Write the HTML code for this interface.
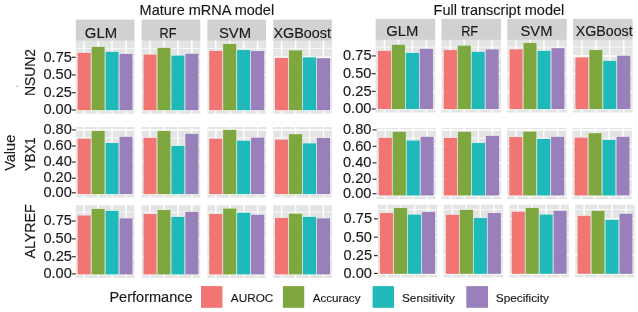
<!DOCTYPE html>
<html><head><meta charset="utf-8"><style>
html,body{margin:0;padding:0;background:#fff;}
svg{display:block;will-change:transform;}
text{font-family:"Liberation Sans", sans-serif;fill:#1A1A1A;stroke:#1A1A1A;stroke-width:0.15px;}
</style></head><body>
<svg width="638" height="312" viewBox="0 0 638 312">
<rect width="638" height="312" fill="#fff"/>
<rect x="75.8" y="39.6" width="58.65" height="74.07" fill="#E3E5E4"/>
<line x1="75.8" x2="134.45" y1="101.51" y2="101.51" stroke="#fff" stroke-width="0.75"/>
<line x1="75.8" x2="134.45" y1="83.82" y2="83.82" stroke="#fff" stroke-width="0.75"/>
<line x1="75.8" x2="134.45" y1="66.14" y2="66.14" stroke="#fff" stroke-width="0.75"/>
<line x1="75.8" x2="134.45" y1="48.46" y2="48.46" stroke="#fff" stroke-width="0.75"/>
<line x1="75.8" x2="134.45" y1="110.35" y2="110.35" stroke="#fff" stroke-width="1.5"/>
<line x1="75.8" x2="134.45" y1="92.67" y2="92.67" stroke="#fff" stroke-width="1.5"/>
<line x1="75.8" x2="134.45" y1="74.98" y2="74.98" stroke="#fff" stroke-width="1.5"/>
<line x1="75.8" x2="134.45" y1="57.3" y2="57.3" stroke="#fff" stroke-width="1.5"/>
<line x1="84.2" x2="84.2" y1="40.6" y2="113.67" stroke="#fff" stroke-width="1.5"/>
<line x1="98.15" x2="98.15" y1="40.6" y2="113.67" stroke="#fff" stroke-width="1.5"/>
<line x1="112.1" x2="112.1" y1="40.6" y2="113.67" stroke="#fff" stroke-width="1.5"/>
<line x1="126.05" x2="126.05" y1="40.6" y2="113.67" stroke="#fff" stroke-width="1.5"/>
<rect x="141.6" y="39.6" width="58.65" height="74.07" fill="#E3E5E4"/>
<line x1="141.6" x2="200.25" y1="101.51" y2="101.51" stroke="#fff" stroke-width="0.75"/>
<line x1="141.6" x2="200.25" y1="83.82" y2="83.82" stroke="#fff" stroke-width="0.75"/>
<line x1="141.6" x2="200.25" y1="66.14" y2="66.14" stroke="#fff" stroke-width="0.75"/>
<line x1="141.6" x2="200.25" y1="48.46" y2="48.46" stroke="#fff" stroke-width="0.75"/>
<line x1="141.6" x2="200.25" y1="110.35" y2="110.35" stroke="#fff" stroke-width="1.5"/>
<line x1="141.6" x2="200.25" y1="92.67" y2="92.67" stroke="#fff" stroke-width="1.5"/>
<line x1="141.6" x2="200.25" y1="74.98" y2="74.98" stroke="#fff" stroke-width="1.5"/>
<line x1="141.6" x2="200.25" y1="57.3" y2="57.3" stroke="#fff" stroke-width="1.5"/>
<line x1="150" x2="150" y1="40.6" y2="113.67" stroke="#fff" stroke-width="1.5"/>
<line x1="163.95" x2="163.95" y1="40.6" y2="113.67" stroke="#fff" stroke-width="1.5"/>
<line x1="177.9" x2="177.9" y1="40.6" y2="113.67" stroke="#fff" stroke-width="1.5"/>
<line x1="191.85" x2="191.85" y1="40.6" y2="113.67" stroke="#fff" stroke-width="1.5"/>
<rect x="207.4" y="39.6" width="58.65" height="74.07" fill="#E3E5E4"/>
<line x1="207.4" x2="266.05" y1="101.51" y2="101.51" stroke="#fff" stroke-width="0.75"/>
<line x1="207.4" x2="266.05" y1="83.82" y2="83.82" stroke="#fff" stroke-width="0.75"/>
<line x1="207.4" x2="266.05" y1="66.14" y2="66.14" stroke="#fff" stroke-width="0.75"/>
<line x1="207.4" x2="266.05" y1="48.46" y2="48.46" stroke="#fff" stroke-width="0.75"/>
<line x1="207.4" x2="266.05" y1="110.35" y2="110.35" stroke="#fff" stroke-width="1.5"/>
<line x1="207.4" x2="266.05" y1="92.67" y2="92.67" stroke="#fff" stroke-width="1.5"/>
<line x1="207.4" x2="266.05" y1="74.98" y2="74.98" stroke="#fff" stroke-width="1.5"/>
<line x1="207.4" x2="266.05" y1="57.3" y2="57.3" stroke="#fff" stroke-width="1.5"/>
<line x1="215.8" x2="215.8" y1="40.6" y2="113.67" stroke="#fff" stroke-width="1.5"/>
<line x1="229.75" x2="229.75" y1="40.6" y2="113.67" stroke="#fff" stroke-width="1.5"/>
<line x1="243.7" x2="243.7" y1="40.6" y2="113.67" stroke="#fff" stroke-width="1.5"/>
<line x1="257.65" x2="257.65" y1="40.6" y2="113.67" stroke="#fff" stroke-width="1.5"/>
<rect x="273.2" y="39.6" width="58.65" height="74.07" fill="#E3E5E4"/>
<line x1="273.2" x2="331.85" y1="101.51" y2="101.51" stroke="#fff" stroke-width="0.75"/>
<line x1="273.2" x2="331.85" y1="83.82" y2="83.82" stroke="#fff" stroke-width="0.75"/>
<line x1="273.2" x2="331.85" y1="66.14" y2="66.14" stroke="#fff" stroke-width="0.75"/>
<line x1="273.2" x2="331.85" y1="48.46" y2="48.46" stroke="#fff" stroke-width="0.75"/>
<line x1="273.2" x2="331.85" y1="110.35" y2="110.35" stroke="#fff" stroke-width="1.5"/>
<line x1="273.2" x2="331.85" y1="92.67" y2="92.67" stroke="#fff" stroke-width="1.5"/>
<line x1="273.2" x2="331.85" y1="74.98" y2="74.98" stroke="#fff" stroke-width="1.5"/>
<line x1="273.2" x2="331.85" y1="57.3" y2="57.3" stroke="#fff" stroke-width="1.5"/>
<line x1="281.6" x2="281.6" y1="40.6" y2="113.67" stroke="#fff" stroke-width="1.5"/>
<line x1="295.55" x2="295.55" y1="40.6" y2="113.67" stroke="#fff" stroke-width="1.5"/>
<line x1="309.5" x2="309.5" y1="40.6" y2="113.67" stroke="#fff" stroke-width="1.5"/>
<line x1="323.45" x2="323.45" y1="40.6" y2="113.67" stroke="#fff" stroke-width="1.5"/>
<rect x="77.43" y="52.8" width="13.53" height="57.55" fill="#F07573" stroke="#fff" stroke-width="0.3"/>
<rect x="91.38" y="46.7" width="13.53" height="63.65" fill="#7FA740" stroke="#fff" stroke-width="0.3"/>
<rect x="105.33" y="51.7" width="13.53" height="58.65" fill="#20B9B9" stroke="#fff" stroke-width="0.3"/>
<rect x="119.28" y="53.8" width="13.53" height="56.55" fill="#9A80BA" stroke="#fff" stroke-width="0.3"/>
<rect x="143.23" y="54.4" width="13.53" height="55.95" fill="#F07573" stroke="#fff" stroke-width="0.3"/>
<rect x="157.18" y="47.7" width="13.53" height="62.65" fill="#7FA740" stroke="#fff" stroke-width="0.3"/>
<rect x="171.13" y="55.4" width="13.53" height="54.95" fill="#20B9B9" stroke="#fff" stroke-width="0.3"/>
<rect x="185.08" y="53.6" width="13.53" height="56.75" fill="#9A80BA" stroke="#fff" stroke-width="0.3"/>
<rect x="209.03" y="50.7" width="13.53" height="59.65" fill="#F07573" stroke="#fff" stroke-width="0.3"/>
<rect x="222.98" y="43.8" width="13.53" height="66.55" fill="#7FA740" stroke="#fff" stroke-width="0.3"/>
<rect x="236.93" y="49.9" width="13.53" height="60.45" fill="#20B9B9" stroke="#fff" stroke-width="0.3"/>
<rect x="250.88" y="50.9" width="13.53" height="59.45" fill="#9A80BA" stroke="#fff" stroke-width="0.3"/>
<rect x="274.83" y="57.8" width="13.53" height="52.55" fill="#F07573" stroke="#fff" stroke-width="0.3"/>
<rect x="288.78" y="50.1" width="13.53" height="60.25" fill="#7FA740" stroke="#fff" stroke-width="0.3"/>
<rect x="302.73" y="57.1" width="13.53" height="53.25" fill="#20B9B9" stroke="#fff" stroke-width="0.3"/>
<rect x="316.68" y="58" width="13.53" height="52.35" fill="#9A80BA" stroke="#fff" stroke-width="0.3"/>
<line x1="71.9" x2="75.8" y1="110" y2="110" stroke="#333333" stroke-width="1.2"/>
<text x="43.41" y="114.2" font-size="14.6" textLength="28.42" lengthAdjust="spacingAndGlyphs">0.00</text>
<line x1="71.9" x2="75.8" y1="92.67" y2="92.67" stroke="#333333" stroke-width="1.2"/>
<text x="43.49" y="96.87" font-size="14.6" textLength="28.42" lengthAdjust="spacingAndGlyphs">0.25</text>
<line x1="71.9" x2="75.8" y1="74.98" y2="74.98" stroke="#333333" stroke-width="1.2"/>
<text x="43.41" y="79.18" font-size="14.6" textLength="28.42" lengthAdjust="spacingAndGlyphs">0.50</text>
<line x1="71.9" x2="75.8" y1="57.3" y2="57.3" stroke="#333333" stroke-width="1.2"/>
<text x="43.49" y="61.5" font-size="14.6" textLength="28.42" lengthAdjust="spacingAndGlyphs">0.75</text>
<rect x="75.8" y="127" width="58.65" height="70.45" fill="#E3E5E4"/>
<line x1="75.8" x2="134.45" y1="186.21" y2="186.21" stroke="#fff" stroke-width="0.75"/>
<line x1="75.8" x2="134.45" y1="170.12" y2="170.12" stroke="#fff" stroke-width="0.75"/>
<line x1="75.8" x2="134.45" y1="154.03" y2="154.03" stroke="#fff" stroke-width="0.75"/>
<line x1="75.8" x2="134.45" y1="137.94" y2="137.94" stroke="#fff" stroke-width="0.75"/>
<line x1="75.8" x2="134.45" y1="194.25" y2="194.25" stroke="#fff" stroke-width="1.5"/>
<line x1="75.8" x2="134.45" y1="178.16" y2="178.16" stroke="#fff" stroke-width="1.5"/>
<line x1="75.8" x2="134.45" y1="162.07" y2="162.07" stroke="#fff" stroke-width="1.5"/>
<line x1="75.8" x2="134.45" y1="145.99" y2="145.99" stroke="#fff" stroke-width="1.5"/>
<line x1="75.8" x2="134.45" y1="129.9" y2="129.9" stroke="#fff" stroke-width="1.5"/>
<line x1="84.2" x2="84.2" y1="127" y2="197.45" stroke="#fff" stroke-width="1.5"/>
<line x1="98.15" x2="98.15" y1="127" y2="197.45" stroke="#fff" stroke-width="1.5"/>
<line x1="112.1" x2="112.1" y1="127" y2="197.45" stroke="#fff" stroke-width="1.5"/>
<line x1="126.05" x2="126.05" y1="127" y2="197.45" stroke="#fff" stroke-width="1.5"/>
<rect x="141.6" y="127" width="58.65" height="70.45" fill="#E3E5E4"/>
<line x1="141.6" x2="200.25" y1="186.21" y2="186.21" stroke="#fff" stroke-width="0.75"/>
<line x1="141.6" x2="200.25" y1="170.12" y2="170.12" stroke="#fff" stroke-width="0.75"/>
<line x1="141.6" x2="200.25" y1="154.03" y2="154.03" stroke="#fff" stroke-width="0.75"/>
<line x1="141.6" x2="200.25" y1="137.94" y2="137.94" stroke="#fff" stroke-width="0.75"/>
<line x1="141.6" x2="200.25" y1="194.25" y2="194.25" stroke="#fff" stroke-width="1.5"/>
<line x1="141.6" x2="200.25" y1="178.16" y2="178.16" stroke="#fff" stroke-width="1.5"/>
<line x1="141.6" x2="200.25" y1="162.07" y2="162.07" stroke="#fff" stroke-width="1.5"/>
<line x1="141.6" x2="200.25" y1="145.99" y2="145.99" stroke="#fff" stroke-width="1.5"/>
<line x1="141.6" x2="200.25" y1="129.9" y2="129.9" stroke="#fff" stroke-width="1.5"/>
<line x1="150" x2="150" y1="127" y2="197.45" stroke="#fff" stroke-width="1.5"/>
<line x1="163.95" x2="163.95" y1="127" y2="197.45" stroke="#fff" stroke-width="1.5"/>
<line x1="177.9" x2="177.9" y1="127" y2="197.45" stroke="#fff" stroke-width="1.5"/>
<line x1="191.85" x2="191.85" y1="127" y2="197.45" stroke="#fff" stroke-width="1.5"/>
<rect x="207.4" y="127" width="58.65" height="70.45" fill="#E3E5E4"/>
<line x1="207.4" x2="266.05" y1="186.21" y2="186.21" stroke="#fff" stroke-width="0.75"/>
<line x1="207.4" x2="266.05" y1="170.12" y2="170.12" stroke="#fff" stroke-width="0.75"/>
<line x1="207.4" x2="266.05" y1="154.03" y2="154.03" stroke="#fff" stroke-width="0.75"/>
<line x1="207.4" x2="266.05" y1="137.94" y2="137.94" stroke="#fff" stroke-width="0.75"/>
<line x1="207.4" x2="266.05" y1="194.25" y2="194.25" stroke="#fff" stroke-width="1.5"/>
<line x1="207.4" x2="266.05" y1="178.16" y2="178.16" stroke="#fff" stroke-width="1.5"/>
<line x1="207.4" x2="266.05" y1="162.07" y2="162.07" stroke="#fff" stroke-width="1.5"/>
<line x1="207.4" x2="266.05" y1="145.99" y2="145.99" stroke="#fff" stroke-width="1.5"/>
<line x1="207.4" x2="266.05" y1="129.9" y2="129.9" stroke="#fff" stroke-width="1.5"/>
<line x1="215.8" x2="215.8" y1="127" y2="197.45" stroke="#fff" stroke-width="1.5"/>
<line x1="229.75" x2="229.75" y1="127" y2="197.45" stroke="#fff" stroke-width="1.5"/>
<line x1="243.7" x2="243.7" y1="127" y2="197.45" stroke="#fff" stroke-width="1.5"/>
<line x1="257.65" x2="257.65" y1="127" y2="197.45" stroke="#fff" stroke-width="1.5"/>
<rect x="273.2" y="127" width="58.65" height="70.45" fill="#E3E5E4"/>
<line x1="273.2" x2="331.85" y1="186.21" y2="186.21" stroke="#fff" stroke-width="0.75"/>
<line x1="273.2" x2="331.85" y1="170.12" y2="170.12" stroke="#fff" stroke-width="0.75"/>
<line x1="273.2" x2="331.85" y1="154.03" y2="154.03" stroke="#fff" stroke-width="0.75"/>
<line x1="273.2" x2="331.85" y1="137.94" y2="137.94" stroke="#fff" stroke-width="0.75"/>
<line x1="273.2" x2="331.85" y1="194.25" y2="194.25" stroke="#fff" stroke-width="1.5"/>
<line x1="273.2" x2="331.85" y1="178.16" y2="178.16" stroke="#fff" stroke-width="1.5"/>
<line x1="273.2" x2="331.85" y1="162.07" y2="162.07" stroke="#fff" stroke-width="1.5"/>
<line x1="273.2" x2="331.85" y1="145.99" y2="145.99" stroke="#fff" stroke-width="1.5"/>
<line x1="273.2" x2="331.85" y1="129.9" y2="129.9" stroke="#fff" stroke-width="1.5"/>
<line x1="281.6" x2="281.6" y1="127" y2="197.45" stroke="#fff" stroke-width="1.5"/>
<line x1="295.55" x2="295.55" y1="127" y2="197.45" stroke="#fff" stroke-width="1.5"/>
<line x1="309.5" x2="309.5" y1="127" y2="197.45" stroke="#fff" stroke-width="1.5"/>
<line x1="323.45" x2="323.45" y1="127" y2="197.45" stroke="#fff" stroke-width="1.5"/>
<rect x="77.43" y="138.5" width="13.53" height="55.75" fill="#F07573" stroke="#fff" stroke-width="0.3"/>
<rect x="91.38" y="130.8" width="13.53" height="63.45" fill="#7FA740" stroke="#fff" stroke-width="0.3"/>
<rect x="105.33" y="142.9" width="13.53" height="51.35" fill="#20B9B9" stroke="#fff" stroke-width="0.3"/>
<rect x="119.28" y="136.7" width="13.53" height="57.55" fill="#9A80BA" stroke="#fff" stroke-width="0.3"/>
<rect x="143.23" y="137.7" width="13.53" height="56.55" fill="#F07573" stroke="#fff" stroke-width="0.3"/>
<rect x="157.18" y="130.8" width="13.53" height="63.45" fill="#7FA740" stroke="#fff" stroke-width="0.3"/>
<rect x="171.13" y="145.7" width="13.53" height="48.55" fill="#20B9B9" stroke="#fff" stroke-width="0.3"/>
<rect x="185.08" y="133.7" width="13.53" height="60.55" fill="#9A80BA" stroke="#fff" stroke-width="0.3"/>
<rect x="209.03" y="138.5" width="13.53" height="55.75" fill="#F07573" stroke="#fff" stroke-width="0.3"/>
<rect x="222.98" y="129.8" width="13.53" height="64.45" fill="#7FA740" stroke="#fff" stroke-width="0.3"/>
<rect x="236.93" y="140.6" width="13.53" height="53.65" fill="#20B9B9" stroke="#fff" stroke-width="0.3"/>
<rect x="250.88" y="137.4" width="13.53" height="56.85" fill="#9A80BA" stroke="#fff" stroke-width="0.3"/>
<rect x="274.83" y="139.4" width="13.53" height="54.85" fill="#F07573" stroke="#fff" stroke-width="0.3"/>
<rect x="288.78" y="134" width="13.53" height="60.25" fill="#7FA740" stroke="#fff" stroke-width="0.3"/>
<rect x="302.73" y="143.1" width="13.53" height="51.15" fill="#20B9B9" stroke="#fff" stroke-width="0.3"/>
<rect x="316.68" y="137.8" width="13.53" height="56.45" fill="#9A80BA" stroke="#fff" stroke-width="0.3"/>
<line x1="71.9" x2="75.8" y1="192.8" y2="192.8" stroke="#333333" stroke-width="1.2"/>
<text x="43.41" y="196.8" font-size="14.6" textLength="28.42" lengthAdjust="spacingAndGlyphs">0.00</text>
<line x1="71.9" x2="75.8" y1="178.16" y2="178.16" stroke="#333333" stroke-width="1.2"/>
<text x="43.41" y="182.16" font-size="14.6" textLength="28.42" lengthAdjust="spacingAndGlyphs">0.20</text>
<line x1="71.9" x2="75.8" y1="162.07" y2="162.07" stroke="#333333" stroke-width="1.2"/>
<text x="43.41" y="166.07" font-size="14.6" textLength="28.42" lengthAdjust="spacingAndGlyphs">0.40</text>
<line x1="71.9" x2="75.8" y1="145.99" y2="145.99" stroke="#333333" stroke-width="1.2"/>
<text x="43.41" y="149.99" font-size="14.6" textLength="28.42" lengthAdjust="spacingAndGlyphs">0.60</text>
<line x1="71.9" x2="75.8" y1="129.9" y2="129.9" stroke="#333333" stroke-width="1.2"/>
<text x="43.41" y="133.9" font-size="14.6" textLength="28.42" lengthAdjust="spacingAndGlyphs">0.80</text>
<rect x="75.8" y="205.2" width="58.65" height="72.7" fill="#E3E5E4"/>
<line x1="75.8" x2="134.45" y1="265.67" y2="265.67" stroke="#fff" stroke-width="0.75"/>
<line x1="75.8" x2="134.45" y1="247.8" y2="247.8" stroke="#fff" stroke-width="0.75"/>
<line x1="75.8" x2="134.45" y1="229.93" y2="229.93" stroke="#fff" stroke-width="0.75"/>
<line x1="75.8" x2="134.45" y1="212.07" y2="212.07" stroke="#fff" stroke-width="0.75"/>
<line x1="75.8" x2="134.45" y1="274.6" y2="274.6" stroke="#fff" stroke-width="1.5"/>
<line x1="75.8" x2="134.45" y1="256.73" y2="256.73" stroke="#fff" stroke-width="1.5"/>
<line x1="75.8" x2="134.45" y1="238.87" y2="238.87" stroke="#fff" stroke-width="1.5"/>
<line x1="75.8" x2="134.45" y1="221" y2="221" stroke="#fff" stroke-width="1.5"/>
<line x1="84.2" x2="84.2" y1="205.2" y2="277.9" stroke="#fff" stroke-width="1.5"/>
<line x1="98.15" x2="98.15" y1="205.2" y2="277.9" stroke="#fff" stroke-width="1.5"/>
<line x1="112.1" x2="112.1" y1="205.2" y2="277.9" stroke="#fff" stroke-width="1.5"/>
<line x1="126.05" x2="126.05" y1="205.2" y2="277.9" stroke="#fff" stroke-width="1.5"/>
<rect x="141.6" y="205.2" width="58.65" height="72.7" fill="#E3E5E4"/>
<line x1="141.6" x2="200.25" y1="265.67" y2="265.67" stroke="#fff" stroke-width="0.75"/>
<line x1="141.6" x2="200.25" y1="247.8" y2="247.8" stroke="#fff" stroke-width="0.75"/>
<line x1="141.6" x2="200.25" y1="229.93" y2="229.93" stroke="#fff" stroke-width="0.75"/>
<line x1="141.6" x2="200.25" y1="212.07" y2="212.07" stroke="#fff" stroke-width="0.75"/>
<line x1="141.6" x2="200.25" y1="274.6" y2="274.6" stroke="#fff" stroke-width="1.5"/>
<line x1="141.6" x2="200.25" y1="256.73" y2="256.73" stroke="#fff" stroke-width="1.5"/>
<line x1="141.6" x2="200.25" y1="238.87" y2="238.87" stroke="#fff" stroke-width="1.5"/>
<line x1="141.6" x2="200.25" y1="221" y2="221" stroke="#fff" stroke-width="1.5"/>
<line x1="150" x2="150" y1="205.2" y2="277.9" stroke="#fff" stroke-width="1.5"/>
<line x1="163.95" x2="163.95" y1="205.2" y2="277.9" stroke="#fff" stroke-width="1.5"/>
<line x1="177.9" x2="177.9" y1="205.2" y2="277.9" stroke="#fff" stroke-width="1.5"/>
<line x1="191.85" x2="191.85" y1="205.2" y2="277.9" stroke="#fff" stroke-width="1.5"/>
<rect x="207.4" y="205.2" width="58.65" height="72.7" fill="#E3E5E4"/>
<line x1="207.4" x2="266.05" y1="265.67" y2="265.67" stroke="#fff" stroke-width="0.75"/>
<line x1="207.4" x2="266.05" y1="247.8" y2="247.8" stroke="#fff" stroke-width="0.75"/>
<line x1="207.4" x2="266.05" y1="229.93" y2="229.93" stroke="#fff" stroke-width="0.75"/>
<line x1="207.4" x2="266.05" y1="212.07" y2="212.07" stroke="#fff" stroke-width="0.75"/>
<line x1="207.4" x2="266.05" y1="274.6" y2="274.6" stroke="#fff" stroke-width="1.5"/>
<line x1="207.4" x2="266.05" y1="256.73" y2="256.73" stroke="#fff" stroke-width="1.5"/>
<line x1="207.4" x2="266.05" y1="238.87" y2="238.87" stroke="#fff" stroke-width="1.5"/>
<line x1="207.4" x2="266.05" y1="221" y2="221" stroke="#fff" stroke-width="1.5"/>
<line x1="215.8" x2="215.8" y1="205.2" y2="277.9" stroke="#fff" stroke-width="1.5"/>
<line x1="229.75" x2="229.75" y1="205.2" y2="277.9" stroke="#fff" stroke-width="1.5"/>
<line x1="243.7" x2="243.7" y1="205.2" y2="277.9" stroke="#fff" stroke-width="1.5"/>
<line x1="257.65" x2="257.65" y1="205.2" y2="277.9" stroke="#fff" stroke-width="1.5"/>
<rect x="273.2" y="205.2" width="58.65" height="72.7" fill="#E3E5E4"/>
<line x1="273.2" x2="331.85" y1="265.67" y2="265.67" stroke="#fff" stroke-width="0.75"/>
<line x1="273.2" x2="331.85" y1="247.8" y2="247.8" stroke="#fff" stroke-width="0.75"/>
<line x1="273.2" x2="331.85" y1="229.93" y2="229.93" stroke="#fff" stroke-width="0.75"/>
<line x1="273.2" x2="331.85" y1="212.07" y2="212.07" stroke="#fff" stroke-width="0.75"/>
<line x1="273.2" x2="331.85" y1="274.6" y2="274.6" stroke="#fff" stroke-width="1.5"/>
<line x1="273.2" x2="331.85" y1="256.73" y2="256.73" stroke="#fff" stroke-width="1.5"/>
<line x1="273.2" x2="331.85" y1="238.87" y2="238.87" stroke="#fff" stroke-width="1.5"/>
<line x1="273.2" x2="331.85" y1="221" y2="221" stroke="#fff" stroke-width="1.5"/>
<line x1="281.6" x2="281.6" y1="205.2" y2="277.9" stroke="#fff" stroke-width="1.5"/>
<line x1="295.55" x2="295.55" y1="205.2" y2="277.9" stroke="#fff" stroke-width="1.5"/>
<line x1="309.5" x2="309.5" y1="205.2" y2="277.9" stroke="#fff" stroke-width="1.5"/>
<line x1="323.45" x2="323.45" y1="205.2" y2="277.9" stroke="#fff" stroke-width="1.5"/>
<rect x="77.43" y="215.2" width="13.53" height="59.4" fill="#F07573" stroke="#fff" stroke-width="0.3"/>
<rect x="91.38" y="208.8" width="13.53" height="65.8" fill="#7FA740" stroke="#fff" stroke-width="0.3"/>
<rect x="105.33" y="210.7" width="13.53" height="63.9" fill="#20B9B9" stroke="#fff" stroke-width="0.3"/>
<rect x="119.28" y="218.1" width="13.53" height="56.5" fill="#9A80BA" stroke="#fff" stroke-width="0.3"/>
<rect x="143.23" y="213.9" width="13.53" height="60.7" fill="#F07573" stroke="#fff" stroke-width="0.3"/>
<rect x="157.18" y="209.9" width="13.53" height="64.7" fill="#7FA740" stroke="#fff" stroke-width="0.3"/>
<rect x="171.13" y="216.8" width="13.53" height="57.8" fill="#20B9B9" stroke="#fff" stroke-width="0.3"/>
<rect x="185.08" y="211.7" width="13.53" height="62.9" fill="#9A80BA" stroke="#fff" stroke-width="0.3"/>
<rect x="209.03" y="213.9" width="13.53" height="60.7" fill="#F07573" stroke="#fff" stroke-width="0.3"/>
<rect x="222.98" y="208.3" width="13.53" height="66.3" fill="#7FA740" stroke="#fff" stroke-width="0.3"/>
<rect x="236.93" y="212.6" width="13.53" height="62" fill="#20B9B9" stroke="#fff" stroke-width="0.3"/>
<rect x="250.88" y="214.7" width="13.53" height="59.9" fill="#9A80BA" stroke="#fff" stroke-width="0.3"/>
<rect x="274.83" y="217.8" width="13.53" height="56.8" fill="#F07573" stroke="#fff" stroke-width="0.3"/>
<rect x="288.78" y="213.5" width="13.53" height="61.1" fill="#7FA740" stroke="#fff" stroke-width="0.3"/>
<rect x="302.73" y="216.8" width="13.53" height="57.8" fill="#20B9B9" stroke="#fff" stroke-width="0.3"/>
<rect x="316.68" y="218.1" width="13.53" height="56.5" fill="#9A80BA" stroke="#fff" stroke-width="0.3"/>
<line x1="71.9" x2="75.8" y1="273.9" y2="273.9" stroke="#333333" stroke-width="1.2"/>
<text x="43.41" y="277.7" font-size="14.6" textLength="28.42" lengthAdjust="spacingAndGlyphs">0.00</text>
<line x1="71.9" x2="75.8" y1="256.73" y2="256.73" stroke="#333333" stroke-width="1.2"/>
<text x="43.49" y="260.53" font-size="14.6" textLength="28.42" lengthAdjust="spacingAndGlyphs">0.25</text>
<line x1="71.9" x2="75.8" y1="238.87" y2="238.87" stroke="#333333" stroke-width="1.2"/>
<text x="43.41" y="242.67" font-size="14.6" textLength="28.42" lengthAdjust="spacingAndGlyphs">0.50</text>
<line x1="71.9" x2="75.8" y1="221" y2="221" stroke="#333333" stroke-width="1.2"/>
<text x="43.49" y="224.8" font-size="14.6" textLength="28.42" lengthAdjust="spacingAndGlyphs">0.75</text>
<rect x="375.7" y="38.7" width="59.45" height="73.81" fill="#E3E5E4"/>
<line x1="375.7" x2="435.15" y1="100.32" y2="100.32" stroke="#fff" stroke-width="0.75"/>
<line x1="375.7" x2="435.15" y1="82.55" y2="82.55" stroke="#fff" stroke-width="0.75"/>
<line x1="375.7" x2="435.15" y1="64.78" y2="64.78" stroke="#fff" stroke-width="0.75"/>
<line x1="375.7" x2="435.15" y1="47.02" y2="47.02" stroke="#fff" stroke-width="0.75"/>
<line x1="375.7" x2="435.15" y1="109.2" y2="109.2" stroke="#fff" stroke-width="1.5"/>
<line x1="375.7" x2="435.15" y1="91.43" y2="91.43" stroke="#fff" stroke-width="1.5"/>
<line x1="375.7" x2="435.15" y1="73.67" y2="73.67" stroke="#fff" stroke-width="1.5"/>
<line x1="375.7" x2="435.15" y1="55.9" y2="55.9" stroke="#fff" stroke-width="1.5"/>
<line x1="384.5" x2="384.5" y1="39.7" y2="112.51" stroke="#fff" stroke-width="1.5"/>
<line x1="398.45" x2="398.45" y1="39.7" y2="112.51" stroke="#fff" stroke-width="1.5"/>
<line x1="412.4" x2="412.4" y1="39.7" y2="112.51" stroke="#fff" stroke-width="1.5"/>
<line x1="426.35" x2="426.35" y1="39.7" y2="112.51" stroke="#fff" stroke-width="1.5"/>
<rect x="441.5" y="38.7" width="59.45" height="73.81" fill="#E3E5E4"/>
<line x1="441.5" x2="500.95" y1="100.32" y2="100.32" stroke="#fff" stroke-width="0.75"/>
<line x1="441.5" x2="500.95" y1="82.55" y2="82.55" stroke="#fff" stroke-width="0.75"/>
<line x1="441.5" x2="500.95" y1="64.78" y2="64.78" stroke="#fff" stroke-width="0.75"/>
<line x1="441.5" x2="500.95" y1="47.02" y2="47.02" stroke="#fff" stroke-width="0.75"/>
<line x1="441.5" x2="500.95" y1="109.2" y2="109.2" stroke="#fff" stroke-width="1.5"/>
<line x1="441.5" x2="500.95" y1="91.43" y2="91.43" stroke="#fff" stroke-width="1.5"/>
<line x1="441.5" x2="500.95" y1="73.67" y2="73.67" stroke="#fff" stroke-width="1.5"/>
<line x1="441.5" x2="500.95" y1="55.9" y2="55.9" stroke="#fff" stroke-width="1.5"/>
<line x1="450.3" x2="450.3" y1="39.7" y2="112.51" stroke="#fff" stroke-width="1.5"/>
<line x1="464.25" x2="464.25" y1="39.7" y2="112.51" stroke="#fff" stroke-width="1.5"/>
<line x1="478.2" x2="478.2" y1="39.7" y2="112.51" stroke="#fff" stroke-width="1.5"/>
<line x1="492.15" x2="492.15" y1="39.7" y2="112.51" stroke="#fff" stroke-width="1.5"/>
<rect x="507.3" y="38.7" width="59.45" height="73.81" fill="#E3E5E4"/>
<line x1="507.3" x2="566.75" y1="100.32" y2="100.32" stroke="#fff" stroke-width="0.75"/>
<line x1="507.3" x2="566.75" y1="82.55" y2="82.55" stroke="#fff" stroke-width="0.75"/>
<line x1="507.3" x2="566.75" y1="64.78" y2="64.78" stroke="#fff" stroke-width="0.75"/>
<line x1="507.3" x2="566.75" y1="47.02" y2="47.02" stroke="#fff" stroke-width="0.75"/>
<line x1="507.3" x2="566.75" y1="109.2" y2="109.2" stroke="#fff" stroke-width="1.5"/>
<line x1="507.3" x2="566.75" y1="91.43" y2="91.43" stroke="#fff" stroke-width="1.5"/>
<line x1="507.3" x2="566.75" y1="73.67" y2="73.67" stroke="#fff" stroke-width="1.5"/>
<line x1="507.3" x2="566.75" y1="55.9" y2="55.9" stroke="#fff" stroke-width="1.5"/>
<line x1="516.1" x2="516.1" y1="39.7" y2="112.51" stroke="#fff" stroke-width="1.5"/>
<line x1="530.05" x2="530.05" y1="39.7" y2="112.51" stroke="#fff" stroke-width="1.5"/>
<line x1="544" x2="544" y1="39.7" y2="112.51" stroke="#fff" stroke-width="1.5"/>
<line x1="557.95" x2="557.95" y1="39.7" y2="112.51" stroke="#fff" stroke-width="1.5"/>
<rect x="573.1" y="38.7" width="59.45" height="73.81" fill="#E3E5E4"/>
<line x1="573.1" x2="632.55" y1="100.32" y2="100.32" stroke="#fff" stroke-width="0.75"/>
<line x1="573.1" x2="632.55" y1="82.55" y2="82.55" stroke="#fff" stroke-width="0.75"/>
<line x1="573.1" x2="632.55" y1="64.78" y2="64.78" stroke="#fff" stroke-width="0.75"/>
<line x1="573.1" x2="632.55" y1="47.02" y2="47.02" stroke="#fff" stroke-width="0.75"/>
<line x1="573.1" x2="632.55" y1="109.2" y2="109.2" stroke="#fff" stroke-width="1.5"/>
<line x1="573.1" x2="632.55" y1="91.43" y2="91.43" stroke="#fff" stroke-width="1.5"/>
<line x1="573.1" x2="632.55" y1="73.67" y2="73.67" stroke="#fff" stroke-width="1.5"/>
<line x1="573.1" x2="632.55" y1="55.9" y2="55.9" stroke="#fff" stroke-width="1.5"/>
<line x1="581.9" x2="581.9" y1="39.7" y2="112.51" stroke="#fff" stroke-width="1.5"/>
<line x1="595.85" x2="595.85" y1="39.7" y2="112.51" stroke="#fff" stroke-width="1.5"/>
<line x1="609.8" x2="609.8" y1="39.7" y2="112.51" stroke="#fff" stroke-width="1.5"/>
<line x1="623.75" x2="623.75" y1="39.7" y2="112.51" stroke="#fff" stroke-width="1.5"/>
<rect x="377.73" y="50.7" width="13.53" height="58.5" fill="#F07573" stroke="#fff" stroke-width="0.3"/>
<rect x="391.68" y="44.6" width="13.53" height="64.6" fill="#7FA740" stroke="#fff" stroke-width="0.3"/>
<rect x="405.63" y="52.8" width="13.53" height="56.4" fill="#20B9B9" stroke="#fff" stroke-width="0.3"/>
<rect x="419.58" y="48.7" width="13.53" height="60.5" fill="#9A80BA" stroke="#fff" stroke-width="0.3"/>
<rect x="443.53" y="49.9" width="13.53" height="59.3" fill="#F07573" stroke="#fff" stroke-width="0.3"/>
<rect x="457.48" y="45.4" width="13.53" height="63.8" fill="#7FA740" stroke="#fff" stroke-width="0.3"/>
<rect x="471.43" y="51.7" width="13.53" height="57.5" fill="#20B9B9" stroke="#fff" stroke-width="0.3"/>
<rect x="485.38" y="49.1" width="13.53" height="60.1" fill="#9A80BA" stroke="#fff" stroke-width="0.3"/>
<rect x="509.33" y="49.1" width="13.53" height="60.1" fill="#F07573" stroke="#fff" stroke-width="0.3"/>
<rect x="523.28" y="42.8" width="13.53" height="66.4" fill="#7FA740" stroke="#fff" stroke-width="0.3"/>
<rect x="537.23" y="50.7" width="13.53" height="58.5" fill="#20B9B9" stroke="#fff" stroke-width="0.3"/>
<rect x="551.18" y="48" width="13.53" height="61.2" fill="#9A80BA" stroke="#fff" stroke-width="0.3"/>
<rect x="575.13" y="57.1" width="13.53" height="52.1" fill="#F07573" stroke="#fff" stroke-width="0.3"/>
<rect x="589.08" y="49.9" width="13.53" height="59.3" fill="#7FA740" stroke="#fff" stroke-width="0.3"/>
<rect x="603.03" y="60.7" width="13.53" height="48.5" fill="#20B9B9" stroke="#fff" stroke-width="0.3"/>
<rect x="616.98" y="55.5" width="13.53" height="53.7" fill="#9A80BA" stroke="#fff" stroke-width="0.3"/>
<line x1="371.6" x2="375.7" y1="109" y2="109" stroke="#333333" stroke-width="1.2"/>
<text x="343.01" y="113.4" font-size="14.6" textLength="28.42" lengthAdjust="spacingAndGlyphs">0.00</text>
<line x1="371.6" x2="375.7" y1="91.43" y2="91.43" stroke="#333333" stroke-width="1.2"/>
<text x="343.09" y="95.83" font-size="14.6" textLength="28.42" lengthAdjust="spacingAndGlyphs">0.25</text>
<line x1="371.6" x2="375.7" y1="73.67" y2="73.67" stroke="#333333" stroke-width="1.2"/>
<text x="343.01" y="78.07" font-size="14.6" textLength="28.42" lengthAdjust="spacingAndGlyphs">0.50</text>
<line x1="371.6" x2="375.7" y1="55.9" y2="55.9" stroke="#333333" stroke-width="1.2"/>
<text x="343.09" y="60.3" font-size="14.6" textLength="28.42" lengthAdjust="spacingAndGlyphs">0.75</text>
<rect x="376.5" y="127.9" width="59.45" height="71.03" fill="#E3E5E4"/>
<line x1="376.5" x2="435.95" y1="187.47" y2="187.47" stroke="#fff" stroke-width="0.75"/>
<line x1="376.5" x2="435.95" y1="171.03" y2="171.03" stroke="#fff" stroke-width="0.75"/>
<line x1="376.5" x2="435.95" y1="154.57" y2="154.57" stroke="#fff" stroke-width="0.75"/>
<line x1="376.5" x2="435.95" y1="138.12" y2="138.12" stroke="#fff" stroke-width="0.75"/>
<line x1="376.5" x2="435.95" y1="195.7" y2="195.7" stroke="#fff" stroke-width="1.5"/>
<line x1="376.5" x2="435.95" y1="179.25" y2="179.25" stroke="#fff" stroke-width="1.5"/>
<line x1="376.5" x2="435.95" y1="162.8" y2="162.8" stroke="#fff" stroke-width="1.5"/>
<line x1="376.5" x2="435.95" y1="146.35" y2="146.35" stroke="#fff" stroke-width="1.5"/>
<line x1="376.5" x2="435.95" y1="129.9" y2="129.9" stroke="#fff" stroke-width="1.5"/>
<line x1="385.3" x2="385.3" y1="127.9" y2="198.93" stroke="#fff" stroke-width="1.5"/>
<line x1="399.25" x2="399.25" y1="127.9" y2="198.93" stroke="#fff" stroke-width="1.5"/>
<line x1="413.2" x2="413.2" y1="127.9" y2="198.93" stroke="#fff" stroke-width="1.5"/>
<line x1="427.15" x2="427.15" y1="127.9" y2="198.93" stroke="#fff" stroke-width="1.5"/>
<rect x="441.77" y="127.9" width="59.45" height="71.03" fill="#E3E5E4"/>
<line x1="441.77" x2="501.22" y1="187.47" y2="187.47" stroke="#fff" stroke-width="0.75"/>
<line x1="441.77" x2="501.22" y1="171.03" y2="171.03" stroke="#fff" stroke-width="0.75"/>
<line x1="441.77" x2="501.22" y1="154.57" y2="154.57" stroke="#fff" stroke-width="0.75"/>
<line x1="441.77" x2="501.22" y1="138.12" y2="138.12" stroke="#fff" stroke-width="0.75"/>
<line x1="441.77" x2="501.22" y1="195.7" y2="195.7" stroke="#fff" stroke-width="1.5"/>
<line x1="441.77" x2="501.22" y1="179.25" y2="179.25" stroke="#fff" stroke-width="1.5"/>
<line x1="441.77" x2="501.22" y1="162.8" y2="162.8" stroke="#fff" stroke-width="1.5"/>
<line x1="441.77" x2="501.22" y1="146.35" y2="146.35" stroke="#fff" stroke-width="1.5"/>
<line x1="441.77" x2="501.22" y1="129.9" y2="129.9" stroke="#fff" stroke-width="1.5"/>
<line x1="450.57" x2="450.57" y1="127.9" y2="198.93" stroke="#fff" stroke-width="1.5"/>
<line x1="464.52" x2="464.52" y1="127.9" y2="198.93" stroke="#fff" stroke-width="1.5"/>
<line x1="478.47" x2="478.47" y1="127.9" y2="198.93" stroke="#fff" stroke-width="1.5"/>
<line x1="492.42" x2="492.42" y1="127.9" y2="198.93" stroke="#fff" stroke-width="1.5"/>
<rect x="507.04" y="127.9" width="59.45" height="71.03" fill="#E3E5E4"/>
<line x1="507.04" x2="566.49" y1="187.47" y2="187.47" stroke="#fff" stroke-width="0.75"/>
<line x1="507.04" x2="566.49" y1="171.03" y2="171.03" stroke="#fff" stroke-width="0.75"/>
<line x1="507.04" x2="566.49" y1="154.57" y2="154.57" stroke="#fff" stroke-width="0.75"/>
<line x1="507.04" x2="566.49" y1="138.12" y2="138.12" stroke="#fff" stroke-width="0.75"/>
<line x1="507.04" x2="566.49" y1="195.7" y2="195.7" stroke="#fff" stroke-width="1.5"/>
<line x1="507.04" x2="566.49" y1="179.25" y2="179.25" stroke="#fff" stroke-width="1.5"/>
<line x1="507.04" x2="566.49" y1="162.8" y2="162.8" stroke="#fff" stroke-width="1.5"/>
<line x1="507.04" x2="566.49" y1="146.35" y2="146.35" stroke="#fff" stroke-width="1.5"/>
<line x1="507.04" x2="566.49" y1="129.9" y2="129.9" stroke="#fff" stroke-width="1.5"/>
<line x1="515.84" x2="515.84" y1="127.9" y2="198.93" stroke="#fff" stroke-width="1.5"/>
<line x1="529.79" x2="529.79" y1="127.9" y2="198.93" stroke="#fff" stroke-width="1.5"/>
<line x1="543.74" x2="543.74" y1="127.9" y2="198.93" stroke="#fff" stroke-width="1.5"/>
<line x1="557.69" x2="557.69" y1="127.9" y2="198.93" stroke="#fff" stroke-width="1.5"/>
<rect x="572.31" y="127.9" width="59.45" height="71.03" fill="#E3E5E4"/>
<line x1="572.31" x2="631.76" y1="187.47" y2="187.47" stroke="#fff" stroke-width="0.75"/>
<line x1="572.31" x2="631.76" y1="171.03" y2="171.03" stroke="#fff" stroke-width="0.75"/>
<line x1="572.31" x2="631.76" y1="154.57" y2="154.57" stroke="#fff" stroke-width="0.75"/>
<line x1="572.31" x2="631.76" y1="138.12" y2="138.12" stroke="#fff" stroke-width="0.75"/>
<line x1="572.31" x2="631.76" y1="195.7" y2="195.7" stroke="#fff" stroke-width="1.5"/>
<line x1="572.31" x2="631.76" y1="179.25" y2="179.25" stroke="#fff" stroke-width="1.5"/>
<line x1="572.31" x2="631.76" y1="162.8" y2="162.8" stroke="#fff" stroke-width="1.5"/>
<line x1="572.31" x2="631.76" y1="146.35" y2="146.35" stroke="#fff" stroke-width="1.5"/>
<line x1="572.31" x2="631.76" y1="129.9" y2="129.9" stroke="#fff" stroke-width="1.5"/>
<line x1="581.11" x2="581.11" y1="127.9" y2="198.93" stroke="#fff" stroke-width="1.5"/>
<line x1="595.06" x2="595.06" y1="127.9" y2="198.93" stroke="#fff" stroke-width="1.5"/>
<line x1="609.01" x2="609.01" y1="127.9" y2="198.93" stroke="#fff" stroke-width="1.5"/>
<line x1="622.96" x2="622.96" y1="127.9" y2="198.93" stroke="#fff" stroke-width="1.5"/>
<rect x="378.53" y="137.7" width="13.53" height="58" fill="#F07573" stroke="#fff" stroke-width="0.3"/>
<rect x="392.48" y="131.6" width="13.53" height="64.1" fill="#7FA740" stroke="#fff" stroke-width="0.3"/>
<rect x="406.43" y="140.3" width="13.53" height="55.4" fill="#20B9B9" stroke="#fff" stroke-width="0.3"/>
<rect x="420.38" y="136.7" width="13.53" height="59" fill="#9A80BA" stroke="#fff" stroke-width="0.3"/>
<rect x="443.8" y="137.8" width="13.53" height="57.9" fill="#F07573" stroke="#fff" stroke-width="0.3"/>
<rect x="457.75" y="131.6" width="13.53" height="64.1" fill="#7FA740" stroke="#fff" stroke-width="0.3"/>
<rect x="471.7" y="142.9" width="13.53" height="52.8" fill="#20B9B9" stroke="#fff" stroke-width="0.3"/>
<rect x="485.65" y="135.7" width="13.53" height="60" fill="#9A80BA" stroke="#fff" stroke-width="0.3"/>
<rect x="509.07" y="136.9" width="13.53" height="58.8" fill="#F07573" stroke="#fff" stroke-width="0.3"/>
<rect x="523.02" y="131.3" width="13.53" height="64.4" fill="#7FA740" stroke="#fff" stroke-width="0.3"/>
<rect x="536.97" y="138.8" width="13.53" height="56.9" fill="#20B9B9" stroke="#fff" stroke-width="0.3"/>
<rect x="550.92" y="136.7" width="13.53" height="59" fill="#9A80BA" stroke="#fff" stroke-width="0.3"/>
<rect x="574.34" y="137.4" width="13.53" height="58.3" fill="#F07573" stroke="#fff" stroke-width="0.3"/>
<rect x="588.29" y="133" width="13.53" height="62.7" fill="#7FA740" stroke="#fff" stroke-width="0.3"/>
<rect x="602.24" y="139.8" width="13.53" height="55.9" fill="#20B9B9" stroke="#fff" stroke-width="0.3"/>
<rect x="616.19" y="136.7" width="13.53" height="59" fill="#9A80BA" stroke="#fff" stroke-width="0.3"/>
<line x1="372.6" x2="376.5" y1="193.65" y2="193.65" stroke="#333333" stroke-width="1.2"/>
<text x="343.01" y="197.85" font-size="14.6" textLength="28.42" lengthAdjust="spacingAndGlyphs">0.00</text>
<line x1="372.6" x2="376.5" y1="179.25" y2="179.25" stroke="#333333" stroke-width="1.2"/>
<text x="343.01" y="183.45" font-size="14.6" textLength="28.42" lengthAdjust="spacingAndGlyphs">0.20</text>
<line x1="372.6" x2="376.5" y1="162.8" y2="162.8" stroke="#333333" stroke-width="1.2"/>
<text x="343.01" y="167" font-size="14.6" textLength="28.42" lengthAdjust="spacingAndGlyphs">0.40</text>
<line x1="372.6" x2="376.5" y1="146.35" y2="146.35" stroke="#333333" stroke-width="1.2"/>
<text x="343.01" y="150.55" font-size="14.6" textLength="28.42" lengthAdjust="spacingAndGlyphs">0.60</text>
<line x1="372.6" x2="376.5" y1="129.9" y2="129.9" stroke="#333333" stroke-width="1.2"/>
<text x="343.01" y="134.1" font-size="14.6" textLength="28.42" lengthAdjust="spacingAndGlyphs">0.80</text>
<rect x="377.8" y="204.7" width="59.45" height="72.6" fill="#E3E5E4"/>
<line x1="377.8" x2="437.25" y1="264.8" y2="264.8" stroke="#fff" stroke-width="0.75"/>
<line x1="377.8" x2="437.25" y1="246.4" y2="246.4" stroke="#fff" stroke-width="0.75"/>
<line x1="377.8" x2="437.25" y1="228" y2="228" stroke="#fff" stroke-width="0.75"/>
<line x1="377.8" x2="437.25" y1="209.6" y2="209.6" stroke="#fff" stroke-width="0.75"/>
<line x1="377.8" x2="437.25" y1="274" y2="274" stroke="#fff" stroke-width="1.5"/>
<line x1="377.8" x2="437.25" y1="255.6" y2="255.6" stroke="#fff" stroke-width="1.5"/>
<line x1="377.8" x2="437.25" y1="237.2" y2="237.2" stroke="#fff" stroke-width="1.5"/>
<line x1="377.8" x2="437.25" y1="218.8" y2="218.8" stroke="#fff" stroke-width="1.5"/>
<line x1="386.6" x2="386.6" y1="204.7" y2="277.3" stroke="#fff" stroke-width="1.5"/>
<line x1="400.55" x2="400.55" y1="204.7" y2="277.3" stroke="#fff" stroke-width="1.5"/>
<line x1="414.5" x2="414.5" y1="204.7" y2="277.3" stroke="#fff" stroke-width="1.5"/>
<line x1="428.45" x2="428.45" y1="204.7" y2="277.3" stroke="#fff" stroke-width="1.5"/>
<rect x="443.63" y="204.7" width="59.45" height="72.6" fill="#E3E5E4"/>
<line x1="443.63" x2="503.08" y1="264.8" y2="264.8" stroke="#fff" stroke-width="0.75"/>
<line x1="443.63" x2="503.08" y1="246.4" y2="246.4" stroke="#fff" stroke-width="0.75"/>
<line x1="443.63" x2="503.08" y1="228" y2="228" stroke="#fff" stroke-width="0.75"/>
<line x1="443.63" x2="503.08" y1="209.6" y2="209.6" stroke="#fff" stroke-width="0.75"/>
<line x1="443.63" x2="503.08" y1="274" y2="274" stroke="#fff" stroke-width="1.5"/>
<line x1="443.63" x2="503.08" y1="255.6" y2="255.6" stroke="#fff" stroke-width="1.5"/>
<line x1="443.63" x2="503.08" y1="237.2" y2="237.2" stroke="#fff" stroke-width="1.5"/>
<line x1="443.63" x2="503.08" y1="218.8" y2="218.8" stroke="#fff" stroke-width="1.5"/>
<line x1="452.43" x2="452.43" y1="204.7" y2="277.3" stroke="#fff" stroke-width="1.5"/>
<line x1="466.38" x2="466.38" y1="204.7" y2="277.3" stroke="#fff" stroke-width="1.5"/>
<line x1="480.33" x2="480.33" y1="204.7" y2="277.3" stroke="#fff" stroke-width="1.5"/>
<line x1="494.28" x2="494.28" y1="204.7" y2="277.3" stroke="#fff" stroke-width="1.5"/>
<rect x="509.46" y="204.7" width="59.45" height="72.6" fill="#E3E5E4"/>
<line x1="509.46" x2="568.91" y1="264.8" y2="264.8" stroke="#fff" stroke-width="0.75"/>
<line x1="509.46" x2="568.91" y1="246.4" y2="246.4" stroke="#fff" stroke-width="0.75"/>
<line x1="509.46" x2="568.91" y1="228" y2="228" stroke="#fff" stroke-width="0.75"/>
<line x1="509.46" x2="568.91" y1="209.6" y2="209.6" stroke="#fff" stroke-width="0.75"/>
<line x1="509.46" x2="568.91" y1="274" y2="274" stroke="#fff" stroke-width="1.5"/>
<line x1="509.46" x2="568.91" y1="255.6" y2="255.6" stroke="#fff" stroke-width="1.5"/>
<line x1="509.46" x2="568.91" y1="237.2" y2="237.2" stroke="#fff" stroke-width="1.5"/>
<line x1="509.46" x2="568.91" y1="218.8" y2="218.8" stroke="#fff" stroke-width="1.5"/>
<line x1="518.26" x2="518.26" y1="204.7" y2="277.3" stroke="#fff" stroke-width="1.5"/>
<line x1="532.21" x2="532.21" y1="204.7" y2="277.3" stroke="#fff" stroke-width="1.5"/>
<line x1="546.16" x2="546.16" y1="204.7" y2="277.3" stroke="#fff" stroke-width="1.5"/>
<line x1="560.11" x2="560.11" y1="204.7" y2="277.3" stroke="#fff" stroke-width="1.5"/>
<rect x="575.29" y="204.7" width="59.45" height="72.6" fill="#E3E5E4"/>
<line x1="575.29" x2="634.74" y1="264.8" y2="264.8" stroke="#fff" stroke-width="0.75"/>
<line x1="575.29" x2="634.74" y1="246.4" y2="246.4" stroke="#fff" stroke-width="0.75"/>
<line x1="575.29" x2="634.74" y1="228" y2="228" stroke="#fff" stroke-width="0.75"/>
<line x1="575.29" x2="634.74" y1="209.6" y2="209.6" stroke="#fff" stroke-width="0.75"/>
<line x1="575.29" x2="634.74" y1="274" y2="274" stroke="#fff" stroke-width="1.5"/>
<line x1="575.29" x2="634.74" y1="255.6" y2="255.6" stroke="#fff" stroke-width="1.5"/>
<line x1="575.29" x2="634.74" y1="237.2" y2="237.2" stroke="#fff" stroke-width="1.5"/>
<line x1="575.29" x2="634.74" y1="218.8" y2="218.8" stroke="#fff" stroke-width="1.5"/>
<line x1="584.09" x2="584.09" y1="204.7" y2="277.3" stroke="#fff" stroke-width="1.5"/>
<line x1="598.04" x2="598.04" y1="204.7" y2="277.3" stroke="#fff" stroke-width="1.5"/>
<line x1="611.99" x2="611.99" y1="204.7" y2="277.3" stroke="#fff" stroke-width="1.5"/>
<line x1="625.94" x2="625.94" y1="204.7" y2="277.3" stroke="#fff" stroke-width="1.5"/>
<rect x="379.83" y="212.9" width="13.53" height="61.1" fill="#F07573" stroke="#fff" stroke-width="0.3"/>
<rect x="393.78" y="207.8" width="13.53" height="66.2" fill="#7FA740" stroke="#fff" stroke-width="0.3"/>
<rect x="407.73" y="214.4" width="13.53" height="59.6" fill="#20B9B9" stroke="#fff" stroke-width="0.3"/>
<rect x="421.68" y="211.8" width="13.53" height="62.2" fill="#9A80BA" stroke="#fff" stroke-width="0.3"/>
<rect x="445.66" y="214.7" width="13.53" height="59.3" fill="#F07573" stroke="#fff" stroke-width="0.3"/>
<rect x="459.61" y="209.7" width="13.53" height="64.3" fill="#7FA740" stroke="#fff" stroke-width="0.3"/>
<rect x="473.56" y="217.9" width="13.53" height="56.1" fill="#20B9B9" stroke="#fff" stroke-width="0.3"/>
<rect x="487.51" y="212.9" width="13.53" height="61.1" fill="#9A80BA" stroke="#fff" stroke-width="0.3"/>
<rect x="511.49" y="211.6" width="13.53" height="62.4" fill="#F07573" stroke="#fff" stroke-width="0.3"/>
<rect x="525.44" y="207.8" width="13.53" height="66.2" fill="#7FA740" stroke="#fff" stroke-width="0.3"/>
<rect x="539.39" y="214.4" width="13.53" height="59.6" fill="#20B9B9" stroke="#fff" stroke-width="0.3"/>
<rect x="553.34" y="210.7" width="13.53" height="63.3" fill="#9A80BA" stroke="#fff" stroke-width="0.3"/>
<rect x="577.32" y="215.7" width="13.53" height="58.3" fill="#F07573" stroke="#fff" stroke-width="0.3"/>
<rect x="591.27" y="210.7" width="13.53" height="63.3" fill="#7FA740" stroke="#fff" stroke-width="0.3"/>
<rect x="605.22" y="219.7" width="13.53" height="54.3" fill="#20B9B9" stroke="#fff" stroke-width="0.3"/>
<rect x="619.17" y="213.6" width="13.53" height="60.4" fill="#9A80BA" stroke="#fff" stroke-width="0.3"/>
<line x1="374" x2="377.8" y1="273.45" y2="273.45" stroke="#333333" stroke-width="1.2"/>
<text x="343.51" y="277.75" font-size="14.6" textLength="28.42" lengthAdjust="spacingAndGlyphs">0.00</text>
<line x1="374" x2="377.8" y1="255.6" y2="255.6" stroke="#333333" stroke-width="1.2"/>
<text x="343.59" y="259.9" font-size="14.6" textLength="28.42" lengthAdjust="spacingAndGlyphs">0.25</text>
<line x1="374" x2="377.8" y1="237.2" y2="237.2" stroke="#333333" stroke-width="1.2"/>
<text x="343.51" y="241.5" font-size="14.6" textLength="28.42" lengthAdjust="spacingAndGlyphs">0.50</text>
<line x1="374" x2="377.8" y1="218.8" y2="218.8" stroke="#333333" stroke-width="1.2"/>
<text x="343.59" y="223.1" font-size="14.6" textLength="28.42" lengthAdjust="spacingAndGlyphs">0.75</text>
<rect x="75.8" y="19.6" width="58.65" height="21" fill="#D1D1D1"/>
<text x="84.86" y="37.9" font-size="14.6" textLength="32.27" lengthAdjust="spacingAndGlyphs">GLM</text>
<rect x="141.6" y="19.6" width="58.65" height="21" fill="#D1D1D1"/>
<text x="159.58" y="37.9" font-size="14.6" textLength="16.97" lengthAdjust="spacingAndGlyphs">RF</text>
<rect x="207.4" y="19.6" width="58.65" height="21" fill="#D1D1D1"/>
<text x="218.93" y="37.9" font-size="14.6" textLength="32.19" lengthAdjust="spacingAndGlyphs">SVM</text>
<rect x="273.2" y="19.6" width="58.65" height="21" fill="#D1D1D1"/>
<text x="273.44" y="37.9" font-size="14.6" textLength="57.56" lengthAdjust="spacingAndGlyphs">XGBoost</text>
<rect x="375.7" y="18.8" width="59.45" height="20.9" fill="#D1D1D1"/>
<text x="386.31" y="36.3" font-size="14.6" textLength="32.11" lengthAdjust="spacingAndGlyphs">GLM</text>
<rect x="441.5" y="18.8" width="59.45" height="20.9" fill="#D1D1D1"/>
<text x="461.18" y="36.3" font-size="14.6" textLength="16.97" lengthAdjust="spacingAndGlyphs">RF</text>
<rect x="507.3" y="18.8" width="59.45" height="20.9" fill="#D1D1D1"/>
<text x="520.54" y="36.3" font-size="14.6" textLength="31.87" lengthAdjust="spacingAndGlyphs">SVM</text>
<rect x="573.1" y="18.8" width="59.45" height="20.9" fill="#D1D1D1"/>
<text x="575.64" y="36.3" font-size="14.6" textLength="57.06" lengthAdjust="spacingAndGlyphs">XGBoost</text>
<text x="139.64" y="14.9" font-size="14.2" textLength="134.52" lengthAdjust="spacingAndGlyphs">Mature mRNA model</text>
<text x="433.64" y="14.65" font-size="14.2" textLength="130.65" lengthAdjust="spacingAndGlyphs">Full transcript model</text>
<text transform="translate(14.9,170.87) rotate(-90)" font-size="14.4" textLength="36.18" lengthAdjust="spacingAndGlyphs">Value</text>
<text transform="translate(35.3,96.11) rotate(-90)" font-size="14.6" textLength="47" lengthAdjust="spacingAndGlyphs">NSUN2</text>
<text transform="translate(35.1,171.13) rotate(-90)" font-size="14.6" textLength="33.75" lengthAdjust="spacingAndGlyphs">YBX1</text>
<text transform="translate(35.3,258.6) rotate(-90)" font-size="14.6" textLength="54.39" lengthAdjust="spacingAndGlyphs">ALYREF</text>
<circle cx="17.05" cy="86.3" r="0.6" fill="#666"/>
<text x="109.44" y="302.3" font-size="14.2" textLength="83.11" lengthAdjust="spacingAndGlyphs">Performance</text>
<rect x="201" y="286.1" width="21.4" height="21.7" fill="#F07573"/>
<rect x="282.9" y="286.1" width="21.3" height="21.7" fill="#7FA740"/>
<rect x="372.6" y="286.1" width="21.4" height="21.7" fill="#20B9B9"/>
<rect x="466.3" y="286.1" width="21.7" height="21.7" fill="#9A80BA"/>
<text x="230.8" y="301.7" font-size="11.7" textLength="42.53" lengthAdjust="spacingAndGlyphs">AUROC</text>
<text x="312.7" y="301.7" font-size="11.7" textLength="47.83" lengthAdjust="spacingAndGlyphs">Accuracy</text>
<text x="401.97" y="301.7" font-size="11.7" textLength="53.05" lengthAdjust="spacingAndGlyphs">Sensitivity</text>
<text x="495.77" y="301.7" font-size="11.7" textLength="53.15" lengthAdjust="spacingAndGlyphs">Specificity</text>
</svg>
</body></html>
